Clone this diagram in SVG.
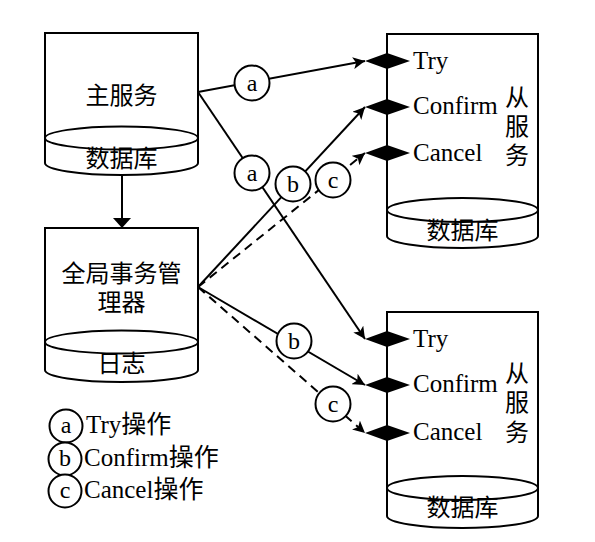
<svg xmlns="http://www.w3.org/2000/svg" width="595" height="542" viewBox="0 0 595 542">
<style>
.cyl{fill:#fff;stroke:#000;stroke-width:2}
.cj{font-family:"Noto Sans CJK SC",sans-serif;font-size:24px;fill:#000;text-anchor:middle}
.lt{font-family:"Liberation Serif","Noto Sans CJK SC",serif;font-size:25px;fill:#000}
.ln{fill:none;stroke:#000;stroke-width:2}
.ds{stroke-dasharray:9 6}
.cc{fill:#fff;stroke:#000;stroke-width:2}
.cl{font-family:"Liberation Serif",serif;font-size:24px;fill:#000;text-anchor:middle}
.dm{fill:#000}
</style>
<defs>
<marker id="ah" markerUnits="userSpaceOnUse" markerWidth="14" markerHeight="12" refX="12" refY="6" orient="auto">
<path d="M0,0 L12,6 L0,12 L3,6 Z" fill="#000"/>
</marker>
</defs>
<rect width="595" height="542" fill="#fff"/>
<g id="main">
<path class="cyl" d="M45,33 H198 V163 A76.5,12 0 0 1 45,163 Z"/>
<ellipse class="cyl" cx="121.5" cy="138" rx="76.5" ry="11.5"/>
<text class="cj" x="121.5" y="104">主服务</text>
<text class="cj" x="121.5" y="167">数据库</text>
</g>
<g id="gtm">
<path class="cyl" d="M45,228 H198 V370 A76.5,12 0 0 1 45,370 Z"/>
<ellipse class="cyl" cx="121.5" cy="342" rx="76.5" ry="11.5"/>
<text class="cj" x="121.5" y="282">全局事务管</text>
<text class="cj" x="121.5" y="311">理器</text>
<text class="cj" x="121.5" y="372">日志</text>
</g>
<g id="slave1">
<path class="cyl" d="M387,34 H538 V236 A75.5,12 0 0 1 387,236 Z"/>
<ellipse class="cyl" cx="462.5" cy="210" rx="75.5" ry="12"/>
<text class="cj" x="462.5" y="239">数据库</text>
<text class="cj" x="517" y="106">从</text>
<text class="cj" x="517" y="135">服</text>
<text class="cj" x="517" y="164">务</text>
<polygon class="dm" points="365,61 387,53 410,61 387,69"/>
<polygon class="dm" points="365,107 387,99 410,107 387,115"/>
<polygon class="dm" points="365,153 387,145 410,153 387,161"/>
<text class="lt" x="413" y="69">Try</text>
<text class="lt" x="413" y="114">Confirm</text>
<text class="lt" x="413" y="161">Cancel</text>
</g>
<g id="slave2">
<path class="cyl" d="M387,312 H538 V516 A75.5,12 0 0 1 387,516 Z"/>
<ellipse class="cyl" cx="462.5" cy="488" rx="75.5" ry="12"/>
<text class="cj" x="462.5" y="516">数据库</text>
<text class="cj" x="517" y="382">从</text>
<text class="cj" x="517" y="411">服</text>
<text class="cj" x="517" y="441">务</text>
<polygon class="dm" points="365,339 387,331 410,339 387,347"/>
<polygon class="dm" points="365,385 387,377 410,385 387,393"/>
<polygon class="dm" points="365,433 387,425 410,433 387,441"/>
<text class="lt" x="413" y="347">Try</text>
<text class="lt" x="413" y="392">Confirm</text>
<text class="lt" x="413" y="440">Cancel</text>
</g>
<g id="connectors">
<line class="ln" x1="122" y1="175" x2="122" y2="219"/>
<polygon points="113,218 131,218 122,228" fill="#000"/>
<line class="ln" x1="198" y1="92" x2="365" y2="61" marker-end="url(#ah)"/>
<line class="ln" x1="198" y1="92" x2="365" y2="339" marker-end="url(#ah)"/>
<line class="ln" x1="198" y1="287" x2="365" y2="107" marker-end="url(#ah)"/>
<line class="ln ds" x1="198" y1="287" x2="365" y2="153" marker-end="url(#ah)"/>
<line class="ln" x1="198" y1="287" x2="365" y2="385" marker-end="url(#ah)"/>
<line class="ln ds" x1="198" y1="287" x2="365" y2="433" marker-end="url(#ah)"/>
<circle class="cc" cx="252" cy="83" r="17.5"/><text class="cl" x="252" y="91">a</text>
<circle class="cc" cx="252" cy="173" r="17.5"/><text class="cl" x="252" y="181">a</text>
<circle class="cc" cx="293" cy="184" r="17.5"/><text class="cl" x="293" y="192">b</text>
<circle class="cc" cx="333" cy="180" r="17.5"/><text class="cl" x="333" y="188">c</text>
<circle class="cc" cx="294" cy="341" r="17.5"/><text class="cl" x="294" y="349">b</text>
<circle class="cc" cx="333" cy="404" r="17.5"/><text class="cl" x="333" y="412">c</text>
</g>
<g id="legend">
<circle class="cc" cx="66" cy="426" r="16.5"/><text class="cl" x="66" y="433">a</text>
<circle class="cc" cx="65" cy="459" r="16.5"/><text class="cl" x="65" y="466">b</text>
<circle class="cc" cx="65" cy="491" r="16.5"/><text class="cl" x="65" y="498">c</text>
<text class="lt" x="86" y="433">Try操作</text>
<text class="lt" x="84" y="466">Confirm操作</text>
<text class="lt" x="84" y="498">Cancel操作</text>
</g>
</svg>
